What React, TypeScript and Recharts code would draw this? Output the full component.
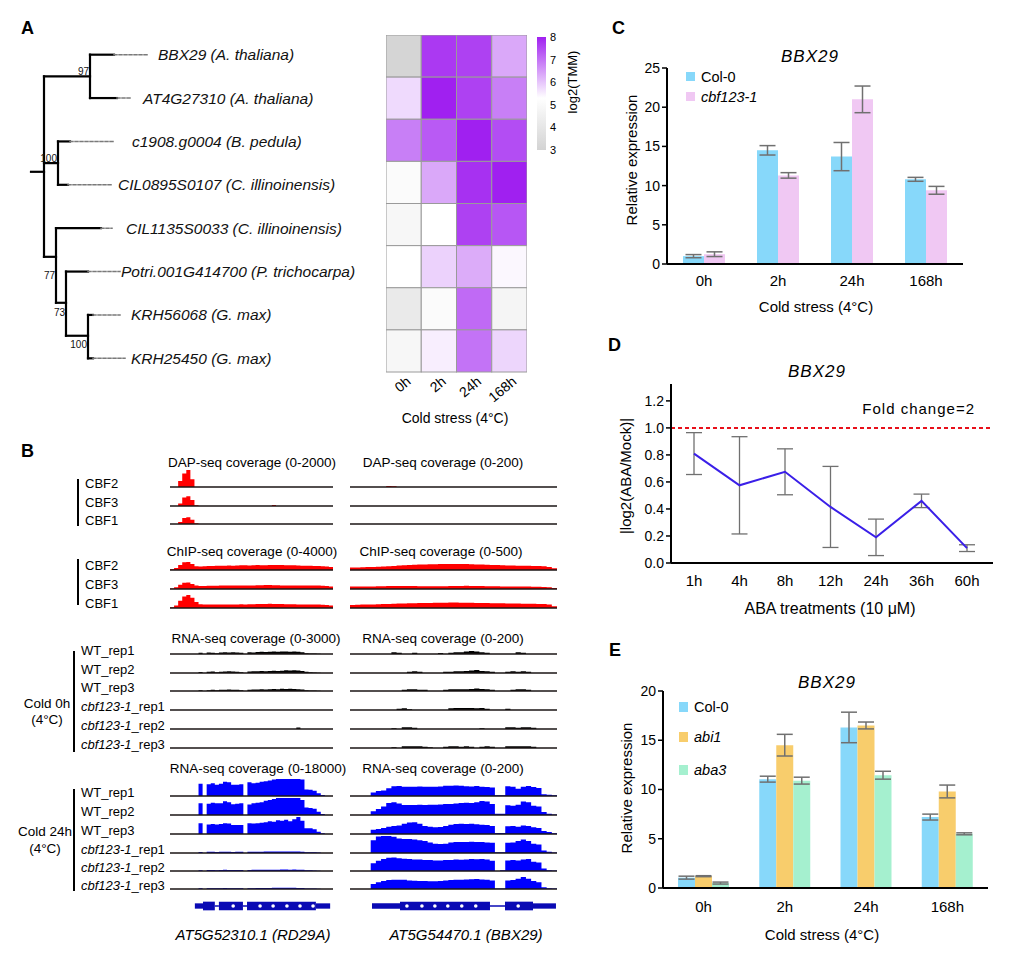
import React from 'react';
import {
  AreaChart, Area, BarChart, Bar, LineChart, Line, ComposedChart, ScatterChart, Scatter,
  XAxis, YAxis, ErrorBar, ReferenceLine, ReferenceArea,
} from 'recharts';

const FONT = '"Liberation Sans", Arial, Helvetica, sans-serif';

// ---------- A: tree ----------
const leafNames = [
  'BBX29 (A. thaliana)',
  'AT4G27310 (A. thaliana)',
  'c1908.g0004 (B. pedula)',
  'CIL0895S0107 (C. illinoinensis)',
  'CIL1135S0033 (C. illinoinensis)',
  'Potri.001G414700 (P. trichocarpa)',
  'KRH56068 (G. max)',
  'KRH25450 (G. max)',
];
const leafParent = [1, 1, 2, 2, 3, 4, 5, 5];
const leafDepth = [0.7, 0.73, 0.26, 0.24, 0.57, 0.44, 0.49, 0.49];
const leafDashEnd = [1.04, 0.88, 0.71, 0.67, 0.68, 0.76, 0.76, 0.81];
const leafLabelAt = [1.14, 0.99, 0.88, 0.74, 0.82, 0.77, 0.87, 0.87];
// internal nodes: root first
const nodeParent = [-1, 0, 0, 0, 3, 4];
const nodeDepth = [0, 0.46, 0.14, 0.12, 0.22, 0.44];
const nodeRow = [2.7, 0.5, 2.5, 4.66, 5.72, 6.48];
const nodeSupport = ['', '97', '100', '77', '73', '100'];
const rootStub = -0.13;

// ---------- A: heatmap, log2(TMM) ----------
const coldTimes = ['0h', '2h', '24h', '168h'];
const heat0h = [3.1, 5.75, 6.85, 5.1, 4.9, 5.3, 4.2, 4.9];
const heat2h = [7.7, 8.0, 7.3, 6.35, 5.3, 5.85, 5.1, 5.5];
const heat24h = [7.6, 7.6, 8.0, 7.8, 7.6, 6.3, 7.1, 7.0];
const heat168h = [6.35, 6.85, 7.45, 8.0, 7.35, 5.4, 4.8, 5.8];
const heatTicks = [3, 4, 5, 6, 7, 8];

// ---------- B: coverage tracks (40 bins over each locus) ----------
const dapRdCbf2 = [0,0,700,1600,2100,900,0,0,0,0, 0,0,0,0,0,0,0,0,0,0, 0,0,0,0,0,0,0,0,0,0, 0,0,0,0,0,0,0,0,0,0];
const dapRdCbf3 = [0,0,300,1000,1150,700,100,0,0,0, 0,0,0,0,0,0,0,0,0,0, 0,0,0,0,0,120,0,0,0,0, 0,0,0,0,0,0,0,0,0,0];
const dapRdCbf1 = [0,0,250,700,800,500,100,0,0,0, 0,0,0,0,0,0,0,0,0,0, 0,0,0,0,0,0,0,0,0,0, 0,0,0,0,0,0,0,0,0,0];
const dapBbCbf2 = [0,0,0,0,0,0,0,12,10,0, 0,0,0,0,0,0,0,0,0,0, 0,0,0,0,0,0,0,0,0,0, 0,0,0,0,0,0,0,0,0,0];
const dapBbCbf3 = [0,0,0,0,0,0,0,0,0,0, 0,0,0,0,0,0,0,0,0,0, 0,0,0,0,0,0,0,0,0,0, 0,0,0,0,0,0,0,0,0,0];
const dapBbCbf1 = [0,0,0,0,0,0,0,0,0,0, 0,0,0,0,0,0,0,0,0,0, 0,0,0,0,0,0,0,0,0,0, 0,0,0,0,0,0,0,0,0,0];

const chipRdCbf2 = [150,500,1200,1800,1900,1400,900,850,900,950, 950,1000,1000,1000,1050,1000,1050,1100,1100,1050, 1100,1150,1100,1100,1150,1200,1150,1150,1100,1100, 1100,1050,1000,1000,1000,950,950,900,850,700];
const chipRdCbf3 = [100,400,1000,1450,1550,1200,800,700,700,750, 750,750,800,800,800,800,850,850,800,850, 850,900,900,950,950,900,900,850,850,850, 800,800,800,850,850,800,800,750,700,600];
const chipRdCbf1 = [150,600,1700,2700,3050,2400,1400,900,800,800, 800,800,850,850,850,850,850,900,850,900, 900,950,950,950,1000,950,950,950,900,900, 900,850,850,850,800,800,800,750,700,600];
const chipBbCbf2 = [70,75,80,85,90,95,100,110,120,130, 140,150,155,160,165,170,172,175,178,180, 180,178,175,170,165,160,155,150,145,140, 135,130,128,125,122,120,118,110,90,50];
const chipBbCbf3 = [70,70,72,75,75,78,80,85,88,90, 90,88,85,82,80,78,78,80,82,85, 88,90,92,90,88,85,82,80,78,76, 75,74,72,70,70,68,66,62,55,30];
const chipBbCbf1 = [90,95,100,100,105,110,115,120,125,130, 135,140,142,145,148,150,152,155,158,160, 160,158,155,152,150,148,145,142,140,138, 135,132,130,128,125,122,120,115,100,55];

const rna0RdWt1 = [0,0,0,0,0,0,0,200,0,250, 200,150,250,300,250,300,250,200,0,300, 250,350,400,350,400,450,400,450,450,400, 450,400,300,150,100,100,50,0,0,0];
const rna0RdWt2 = [0,0,0,0,0,0,0,180,0,200, 250,150,200,250,300,250,200,150,0,250, 300,300,350,300,350,400,350,400,500,450, 500,450,350,200,150,100,50,0,0,0];
const rna0RdWt3 = [0,0,0,0,0,0,0,150,0,150, 200,150,200,200,250,200,200,150,0,200, 250,250,300,250,300,350,300,400,350,400, 350,300,250,150,100,100,50,0,0,0];
const rna0RdCbf1 = [0,0,0,0,0,0,0,0,0,0, 0,0,0,0,0,0,0,0,0,0, 0,0,0,0,0,0,0,0,0,0, 0,0,0,0,0,0,0,0,0,0];
const rna0RdCbf2 = [0,0,0,0,0,0,0,0,0,0, 0,0,0,0,0,0,0,0,0,0, 0,0,0,0,0,0,0,0,0,0, 0,250,0,0,0,0,0,0,0,0];
const rna0RdCbf3 = [0,0,0,0,0,0,0,0,0,0, 0,0,0,0,0,0,0,0,0,0, 0,0,0,0,0,0,0,0,0,0, 0,0,0,0,0,0,0,0,0,0];
const rna0BbWt1 = [0,0,0,0,0,0,0,0,20,15, 0,0,15,0,0,0,0,12,0,15, 20,20,30,35,30,20,15,0,0,0, 0,0,20,15,0,0,0,0,0,0];
const rna0BbWt2 = [0,0,0,0,0,0,0,0,0,0, 0,15,20,15,0,0,0,0,15,15, 20,20,25,30,35,25,20,15,0,0, 15,20,15,20,15,0,0,0,0,0];
const rna0BbWt3 = [0,0,0,0,0,0,0,0,0,0, 15,20,20,15,15,0,0,0,15,20, 20,20,20,25,30,25,20,15,0,0, 0,15,20,20,15,0,0,0,0,0];
const rna0BbCbf1 = [0,0,0,0,0,0,0,0,0,15, 20,10,0,0,0,0,0,0,0,20, 25,25,25,25,20,25,15,0,0,0, 15,0,0,0,0,0,0,0,0,0];
const rna0BbCbf2 = [0,0,0,0,0,0,0,0,10,0, 20,20,15,0,0,0,0,0,0,0, 0,0,0,0,0,10,0,0,0,0, 20,20,15,20,20,15,0,0,0,0];
const rna0BbCbf3 = [0,0,0,0,0,0,0,0,10,0, 20,20,20,20,15,10,0,0,15,20, 20,15,20,15,0,15,20,15,0,0, 20,20,20,20,20,15,0,0,0,0];

const rna24RdWt1 = [0,0,0,0,0,0,0,13000,0,12500, 13500,12000,13000,15000,14500,12000,12000,12500,0,14500, 13500,14000,15000,15500,16500,17500,19000,19000,19000,19000, 19000,19000,17500,7000,6500,5500,3000,1000,0,0];
const rna24RdWt2 = [0,0,0,0,0,0,0,12500,0,12000, 13000,12500,12500,14500,13500,11500,12000,12500,0,11000, 12500,13000,13500,15000,16000,17000,18500,19000,19000,19000, 19000,19000,16000,8000,7500,6500,3500,1000,0,0];
const rna24RdWt3 = [0,0,0,0,0,0,0,11500,0,10000, 10500,10000,10500,11500,11000,9500,9500,9500,0,11500, 11000,11500,12000,12500,13500,13000,14500,14000,15000,13500, 15500,19000,14000,6000,6000,5000,2500,800,0,0];
const rna24RdCbf1 = [0,0,0,0,0,0,0,1000,0,1200, 1200,1000,1200,1400,1200,1100,1200,1200,0,1300, 1300,1400,1400,1500,1500,1500,1600,1600,1600,1500, 1600,1500,1400,900,800,700,400,0,0,0];
const rna24RdCbf2 = [0,0,0,0,0,0,0,900,0,1000, 1100,900,1000,1200,1100,1000,1000,1100,0,1100, 1200,1200,1300,1300,1400,1400,1400,1500,1500,1400, 1500,1400,1300,800,700,600,300,0,0,0];
const rna24RdCbf3 = [0,0,0,0,0,0,0,700,0,800, 800,700,800,1000,900,800,800,900,0,900, 900,1000,1000,1100,1100,1200,1200,1200,1300,1200, 1200,1100,1000,600,500,400,200,0,0,0];
const rna24BbWt1 = [0,0,0,0,40,60,65,90,115,118, 110,108,110,112,110,108,110,112,120,122, 125,122,115,112,118,110,105,100,10,10, 115,110,85,110,118,105,95,20,15,8];
const rna24BbWt2 = [0,0,0,0,45,70,100,140,150,135, 118,118,118,120,118,120,122,125,128,130, 135,140,145,140,150,165,160,130,15,15, 115,110,120,160,150,110,100,35,15,5];
const rna24BbWt3 = [0,0,0,0,50,60,70,85,95,100, 120,135,138,120,95,85,80,82,95,110, 118,120,118,120,115,110,105,95,12,12, 90,95,85,100,95,80,70,35,25,10];
const rna24BbCbf1 = [0,0,0,0,150,195,200,200,190,170, 165,165,160,150,140,125,110,105,110,125, 130,128,130,132,130,128,125,120,10,10, 120,125,140,160,140,110,100,30,15,5];
const rna24BbCbf2 = [0,0,0,0,90,120,140,155,160,150, 145,140,135,135,130,128,125,125,128,130, 135,132,135,140,138,140,135,120,0,10, 125,130,125,135,140,110,100,30,10,5];
const rna24BbCbf3 = [0,0,0,0,60,80,95,105,108,110, 108,100,98,95,95,92,92,95,100,105, 108,110,112,115,118,112,110,100,5,5, 100,105,120,140,120,95,80,20,10,5];

const cbfLabels = ['CBF2', 'CBF3', 'CBF1'];
const rnaLabels = ['WT_rep1', 'WT_rep2', 'WT_rep3', 'cbf123-1_rep1', 'cbf123-1_rep2', 'cbf123-1_rep3'];

// gene models, in bin units of each locus
const rd29aUtr = [[6.1, 8.1], [35.8, 39.3]];
const rd29aCds = [[8.1, 11.0], [12.0, 17.9], [18.9, 35.8]];
const rd29aIntron = [[11.0, 12.0], [17.9, 18.9]];
const rd29aArrows = [15.5, 22.1, 25.3, 28.7, 31.9, 35.1];
const bbx29Utr = [[4.25, 9.66], [35.36, 39.8]];
const bbx29Cds = [[9.66, 27.05], [29.95, 35.36]];
const bbx29Intron = [[27.05, 29.95]];
const bbx29Arrows = [11.0, 13.9, 16.4, 18.9, 21.6, 24.3, 32.5];

// ---------- C ----------
const cCol0 = [1.0, 14.5, 13.7, 10.8];
const cCol0Err = [0.2, 0.6, 1.8, 0.25];
const cCbf = [1.25, 11.3, 21.0, 9.4];
const cCbfErr = [0.3, 0.35, 1.7, 0.5];

// ---------- D ----------
const abaTimes = ['1h', '4h', '8h', '12h', '24h', '36h', '60h'];
const abaLog = [0.81, 0.575, 0.675, 0.415, 0.19, 0.46, 0.11];
const abaErr = [0.155, 0.36, 0.17, 0.3, 0.135, 0.05, 0.025];

// ---------- E ----------
const eCol0 = [1.05, 11.05, 16.3, 7.2];
const eCol0Err = [0.15, 0.3, 1.55, 0.3];
const eAbi1 = [1.2, 14.5, 16.5, 9.8];
const eAbi1Err = [0.05, 1.1, 0.35, 0.65];
const eAba3 = [0.5, 10.9, 11.45, 5.5];
const eAba3Err = [0.1, 0.35, 0.4, 0.1];

const COL0 = '#87d8fa';
const CBF = '#f0c8f3';
const ABI1 = '#f8cd6c';
const ABA3 = '#a5f0cf';
const GENE = '#0a0ab4';

function heatColor(v: number) {
  const gray = [211, 211, 211];
  const white = [255, 255, 255];
  const purple = [160, 32, 240];
  let a = gray, b = white, t = (v - 3) / 2.3;
  if (v > 5.3) { a = white; b = purple; t = (v - 5.3) / 2.7; }
  t = Math.max(0, Math.min(1, t));
  const c = a.map((x, i) => Math.round(x + (b[i] - x) * t));
  return `rgb(${c[0]},${c[1]},${c[2]})`;
}

type TxtProps = {
  x: number; y: number; children: React.ReactNode; size?: number; italic?: boolean;
  bold?: boolean; anchor?: 'start' | 'middle' | 'end'; rotate?: number; spacing?: number;
};
function Txt({ x, y, children, size = 13, italic, bold, anchor = 'start', rotate, spacing }: TxtProps) {
  return (
    <text x={x} y={y} fontSize={size} fontStyle={italic ? 'italic' : 'normal'} fontWeight={bold ? 'bold' : 'normal'}
      textAnchor={anchor} dominantBaseline="central" letterSpacing={spacing} fill="#000"
      transform={rotate ? `rotate(${rotate} ${x} ${y})` : undefined}>
      {children}
    </text>
  );
}

// ---------- tree ----------
type Seg = { x1: number; y1: number; x2: number; y2: number; dashed?: boolean };
const treeSegs: Seg[] = [];
treeSegs.push({ x1: rootStub, y1: nodeRow[0], x2: 0, y2: nodeRow[0] });
nodeParent.forEach((p, n) => {
  if (p >= 0) treeSegs.push({ x1: nodeDepth[p], y1: nodeRow[n], x2: nodeDepth[n], y2: nodeRow[n] });
});
leafParent.forEach((p, l) => {
  treeSegs.push({ x1: nodeDepth[p], y1: l, x2: leafDepth[l], y2: l });
  treeSegs.push({ x1: leafDepth[l], y1: l, x2: leafDashEnd[l], y2: l, dashed: true });
});
nodeDepth.forEach((d, n) => {
  const ys: number[] = [];
  nodeParent.forEach((p, c) => { if (p === n) ys.push(nodeRow[c]); });
  leafParent.forEach((p, l) => { if (p === n) ys.push(l); });
  treeSegs.push({ x1: d, y1: Math.min(...ys), x2: d, y2: Math.max(...ys) });
});
const supportDy = [0, -5, -5, 19, 10, 9];

function TreePanel() {
  const leafPts = leafNames.map((name, i) => ({ x: leafLabelAt[i], y: i, name }));
  const supPts = nodeSupport.map((s, i) => ({ x: nodeDepth[i], y: nodeRow[i], s, dy: supportDy[i] })).filter((p) => p.s);
  return (
    <div style={{ position: 'absolute', left: 0, top: 33 }}>
      <ComposedChart width={390} height={347} margin={{ top: 0, right: 0, bottom: 0, left: 0 }}>
        <XAxis type="number" dataKey="x" domain={[-0.44, 3.46]} hide />
        <YAxis type="number" dataKey="y" domain={[-0.5, 7.5]} reversed hide />
        {treeSegs.map((s, i) => (
          <ReferenceLine key={i} segment={[{ x: s.x1, y: s.y1 }, { x: s.x2, y: s.y2 }]}
            stroke={s.dashed ? '#7a7a7a' : '#000'} strokeWidth={s.dashed ? 1.5 : 2.2}
            strokeDasharray={s.dashed ? '3 2' : undefined} strokeLinecap="square" ifOverflow="visible" />
        ))}
        <Scatter data={leafPts} isAnimationActive={false}
          shape={(p: any) => (
            <text x={p.cx} y={p.cy} fontSize={15.5} fontStyle="italic" dominantBaseline="central" fill="#111">{p.payload.name}</text>
          )} />
        <Scatter data={supPts} isAnimationActive={false}
          shape={(p: any) => (
            <text x={p.cx - 1} y={p.cy + p.payload.dy} fontSize={10} textAnchor="end" dominantBaseline="central" fill="#111">{p.payload.s}</text>
          )} />
      </ComposedChart>
    </div>
  );
}

// ---------- heatmap ----------
const heatByTime = [heat0h, heat2h, heat24h, heat168h];
const HEAT_W = 141;
const HEAT_H = 337;
function HeatPanel() {
  const cells = heatByTime.flatMap((col, c) => col.map((v, r) => ({ col: c, row: r, v })));
  const cw = HEAT_W / coldTimes.length;
  const ch = HEAT_H / leafNames.length;
  return (
    <div style={{ position: 'absolute', left: 386, top: 35 }}>
      <ScatterChart width={HEAT_W} height={HEAT_H + 50} margin={{ top: 0, right: 0, bottom: 0, left: 0 }}>
        <XAxis type="number" dataKey="col" domain={[-0.5, 3.5]} ticks={[0, 1, 2, 3]} height={50}
          axisLine={false} tickLine={false} interval={0}
          tick={(p: any) => (
            <text transform={`translate(${p.x + 8},${p.y + 3}) rotate(-40)`} textAnchor="end" fontSize={14} fill="#000">
              {coldTimes[p.payload.value]}
            </text>
          )} />
        <YAxis type="number" dataKey="row" domain={[-0.5, 7.5]} reversed hide />
        <Scatter data={cells} isAnimationActive={false}
          shape={(p: any) => (
            <rect x={p.cx - cw / 2} y={p.cy - ch / 2} width={cw} height={ch} fill={heatColor(p.payload.v)} stroke="#9a9a9a" strokeWidth={1} />
          )} />
      </ScatterChart>
    </div>
  );
}

// ---------- genome tracks ----------
const TRACK_H = 17;
const LEFT_X = 170;
const LEFT_W = 163;
const RIGHT_X = 350;
const RIGHT_W = 207;
const dapBase = [487, 506, 524];
const chipBase = [570, 589, 608];
const rna0Base = [654, 673, 691, 710, 729, 748];
const rna24Base = [796, 815, 834, 853, 871, 889];

function Track({ values, max, color, left, base, width }: { values: number[]; max: number; color: string; left: number; base: number; width: number }) {
  const data = values.map((v, i) => ({ i, v })).concat([{ i: values.length, v: 0 }]);
  return (
    <div style={{ position: 'absolute', left, top: base - TRACK_H }}>
      <AreaChart width={width} height={TRACK_H + 2} data={data} margin={{ top: 0, right: 0, bottom: 2, left: 0 }}>
        <XAxis type="number" dataKey="i" domain={[0, values.length]} hide />
        <YAxis type="number" domain={[0, max]} hide allowDataOverflow />
        <Area type="stepAfter" dataKey="v" stroke="none" fill={color} fillOpacity={1} isAnimationActive={false} />
        <ReferenceLine y={0} stroke="#1a1414" strokeWidth={1.3} />
      </AreaChart>
    </div>
  );
}

function GeneModel({ left, width, utr, cds, intron, arrows }: { left: number; width: number; utr: number[][]; cds: number[][]; intron: number[][]; arrows: number[] }) {
  const dots = arrows.map((x) => ({ x, y: 0 }));
  return (
    <div style={{ position: 'absolute', left, top: 899 }}>
      <ComposedChart width={width} height={14} margin={{ top: 0, right: 0, bottom: 0, left: 0 }}>
        <XAxis type="number" dataKey="x" domain={[0, 40]} hide />
        <YAxis type="number" dataKey="y" domain={[-1, 1]} hide />
        {intron.map((s, i) => (
          <ReferenceLine key={'i' + i} segment={[{ x: s[0], y: 0 }, { x: s[1], y: 0 }]} stroke={GENE} strokeWidth={1.5} ifOverflow="visible" />
        ))}
        {utr.map((s, i) => (
          <ReferenceArea key={'u' + i} x1={s[0]} x2={s[1]} y1={-0.38} y2={0.38} fill={GENE} fillOpacity={1} stroke="none" ifOverflow="visible" />
        ))}
        {cds.map((s, i) => (
          <ReferenceArea key={'c' + i} x1={s[0]} x2={s[1]} y1={-0.62} y2={0.62} fill={GENE} fillOpacity={1} stroke="none" ifOverflow="visible" />
        ))}
        <Scatter data={dots} isAnimationActive={false}
          shape={(p: any) => <circle cx={p.cx} cy={p.cy} r={1.8} fill="#fff" />} />
      </ComposedChart>
    </div>
  );
}

function GenomePanel() {
  const groups = [
    { base: dapBase, color: '#ff0000', left: [dapRdCbf2, dapRdCbf3, dapRdCbf1], lmax: 2000, right: [dapBbCbf2, dapBbCbf3, dapBbCbf1], rmax: 200 },
    { base: chipBase, color: '#ff0000', left: [chipRdCbf2, chipRdCbf3, chipRdCbf1], lmax: 4000, right: [chipBbCbf2, chipBbCbf3, chipBbCbf1], rmax: 500 },
    { base: rna0Base, color: '#000000', left: [rna0RdWt1, rna0RdWt2, rna0RdWt3, rna0RdCbf1, rna0RdCbf2, rna0RdCbf3], lmax: 3000, right: [rna0BbWt1, rna0BbWt2, rna0BbWt3, rna0BbCbf1, rna0BbCbf2, rna0BbCbf3], rmax: 200 },
    { base: rna24Base, color: '#0000ff', left: [rna24RdWt1, rna24RdWt2, rna24RdWt3, rna24RdCbf1, rna24RdCbf2, rna24RdCbf3], lmax: 18000, right: [rna24BbWt1, rna24BbWt2, rna24BbWt3, rna24BbCbf1, rna24BbCbf2, rna24BbCbf3], rmax: 200 },
  ];
  return (
    <>
      {groups.map((g, gi) => (
        <React.Fragment key={gi}>
          {g.left.map((vals, i) => (
            <Track key={'l' + i} values={vals} max={g.lmax} color={g.color} left={LEFT_X} base={g.base[i]} width={LEFT_W} />
          ))}
          {g.right.map((vals, i) => (
            <Track key={'r' + i} values={vals} max={g.rmax} color={g.color} left={RIGHT_X} base={g.base[i]} width={RIGHT_W} />
          ))}
        </React.Fragment>
      ))}
      <GeneModel left={LEFT_X} width={LEFT_W} utr={rd29aUtr} cds={rd29aCds} intron={rd29aIntron} arrows={rd29aArrows} />
      <GeneModel left={RIGHT_X} width={RIGHT_W} utr={bbx29Utr} cds={bbx29Cds} intron={bbx29Intron} arrows={bbx29Arrows} />
    </>
  );
}

// ---------- bar / line panels ----------
const axisStyle = { stroke: '#000', strokeWidth: 2 };
const tickStyle = { fill: '#000', fontSize: 14, fontFamily: FONT };
const xTickStyle = { fill: '#000', fontSize: 15, fontFamily: FONT };

function PanelC() {
  const data = coldTimes.map((t, i) => ({ t, col: cCol0[i], colErr: cCol0Err[i], cbf: cCbf[i], cbfErr: cCbfErr[i] }));
  return (
    <div style={{ position: 'absolute', left: 600, top: 40 }}>
      <BarChart width={380} height={290} data={data} margin={{ top: 28, right: 17, bottom: 36, left: 27 }} barGap={0} barSize={21}>
        <XAxis dataKey="t" height={30} axisLine={axisStyle} tickLine={false} tick={xTickStyle} tickMargin={5} />
        <YAxis domain={[0, 25]} ticks={[0, 5, 10, 15, 20, 25]} width={40} axisLine={axisStyle}
          tickLine={{ stroke: '#000', strokeWidth: 1.5 }} tickSize={5} tick={tickStyle} />
        <Bar dataKey="col" fill={COL0} isAnimationActive={false}>
          <ErrorBar dataKey="colErr" width={8} stroke="#707070" strokeWidth={1.5} />
        </Bar>
        <Bar dataKey="cbf" fill={CBF} isAnimationActive={false}>
          <ErrorBar dataKey="cbfErr" width={8} stroke="#707070" strokeWidth={1.5} />
        </Bar>
      </BarChart>
    </div>
  );
}

function PanelD() {
  const data = abaTimes.map((t, i) => ({ t, v: abaLog[i], e: abaErr[i] }));
  return (
    <div style={{ position: 'absolute', left: 600, top: 370 }}>
      <LineChart width={400} height={250} data={data} margin={{ top: 14, right: 7, bottom: 27, left: 26 }}>
        <XAxis dataKey="t" height={30} padding={{ left: 23, right: 26 }} axisLine={axisStyle} tickLine={false} tick={xTickStyle} tickMargin={6} />
        <XAxis xAxisId="top" dataKey="t" orientation="top" height={0} padding={{ left: 23, right: 26 }} axisLine={axisStyle} tickLine={false} tick={false} />
        <YAxis domain={[0, 1.325]} ticks={[0, 0.2, 0.4, 0.6, 0.8, 1.0, 1.2]} tickFormatter={(v: number) => v.toFixed(1)}
          width={45} axisLine={axisStyle} tickLine={{ stroke: '#000', strokeWidth: 1.5 }} tickSize={5} tick={tickStyle} allowDataOverflow />
        <YAxis yAxisId="right" orientation="right" domain={[0, 1.325]} width={0} axisLine={axisStyle} tickLine={false} tick={false} />
        <ReferenceLine y={1} stroke="#e8101a" strokeWidth={2} strokeDasharray="4 3" />
        <Line dataKey="v" stroke="#3a1fe8" strokeWidth={2} dot={false} isAnimationActive={false}>
          <ErrorBar dataKey="e" width={8} stroke="#707070" strokeWidth={1.3} />
        </Line>
      </LineChart>
    </div>
  );
}

function PanelE() {
  const data = coldTimes.map((t, i) => ({
    t, col: eCol0[i], colErr: eCol0Err[i], abi: eAbi1[i], abiErr: eAbi1Err[i], aba: eAba3[i], abaErr: eAba3Err[i],
  }));
  return (
    <div style={{ position: 'absolute', left: 600, top: 660 }}>
      <BarChart width={400} height={278} data={data} margin={{ top: 31, right: 12, bottom: 20, left: 23 }} barGap={0} barSize={17}>
        <XAxis dataKey="t" height={30} axisLine={axisStyle} tickLine={false} tick={xTickStyle} tickMargin={7} />
        <YAxis domain={[0, 20]} ticks={[0, 5, 10, 15, 20]} width={40} axisLine={axisStyle}
          tickLine={{ stroke: '#000', strokeWidth: 1.5 }} tickSize={5} tick={tickStyle} />
        <Bar dataKey="col" fill={COL0} isAnimationActive={false}>
          <ErrorBar dataKey="colErr" width={8} stroke="#707070" strokeWidth={1.5} />
        </Bar>
        <Bar dataKey="abi" fill={ABI1} isAnimationActive={false}>
          <ErrorBar dataKey="abiErr" width={8} stroke="#707070" strokeWidth={1.5} />
        </Bar>
        <Bar dataKey="aba" fill={ABA3} isAnimationActive={false}>
          <ErrorBar dataKey="abaErr" width={8} stroke="#707070" strokeWidth={1.5} />
        </Bar>
      </BarChart>
    </div>
  );
}

function TrackLabel({ x, y, label }: { x: number; y: number; label: string }) {
  if (label.startsWith('cbf123-1')) {
    return (
      <text x={x} y={y} fontSize={13} dominantBaseline="central" fill="#000">
        <tspan fontStyle="italic">cbf123-1</tspan>
        <tspan>{label.slice(8)}</tspan>
      </text>
    );
  }
  return <Txt x={x} y={y}>{label}</Txt>;
}

function Overlay() {
  const cLegend = [{ name: 'Col-0', color: COL0, italic: false }, { name: 'cbf123-1', color: CBF, italic: true }];
  const eLegend = [{ name: 'Col-0', color: COL0, italic: false }, { name: 'abi1', color: ABI1, italic: true }, { name: 'aba3', color: ABA3, italic: true }];
  const eLegendY = [707, 737, 770];
  return (
    <svg width={1017} height={959} style={{ position: 'absolute', left: 0, top: 0, pointerEvents: 'none', fontFamily: FONT }}>
      <defs>
        <linearGradient id="heatgrad" x1="0" y1="0" x2="0" y2="1">
          <stop offset="0%" stopColor={heatColor(8)} />
          <stop offset="54%" stopColor={heatColor(5.3)} />
          <stop offset="100%" stopColor={heatColor(3)} />
        </linearGradient>
      </defs>

      {/* panel letters */}
      <Txt x={21} y={28} size={18} bold>A</Txt>
      <Txt x={21} y={451} size={18} bold>B</Txt>
      <Txt x={612} y={28} size={18} bold>C</Txt>
      <Txt x={608} y={345} size={18} bold>D</Txt>
      <Txt x={609} y={650} size={18} bold>E</Txt>

      {/* heatmap legend + axis title */}
      <rect x={537} y={37} width={9} height={113} fill="url(#heatgrad)" />
      {heatTicks.map((t) => (
        <Txt key={t} x={550} y={150 - ((t - 3) / 5) * 113} size={11}>{t}</Txt>
      ))}
      <Txt x={572} y={82} size={13} anchor="middle" rotate={-90}>log2(TMM)</Txt>
      <Txt x={455} y={418} size={14} anchor="middle">Cold stress (4°C)</Txt>

      {/* genome panel text */}
      <Txt x={252} y={462} anchor="middle" size={13.5}>DAP-seq coverage (0-2000)</Txt>
      <Txt x={443} y={462} anchor="middle" size={13.5}>DAP-seq coverage (0-200)</Txt>
      <Txt x={252} y={551} anchor="middle" size={13.5}>ChIP-seq coverage (0-4000)</Txt>
      <Txt x={441} y={551} anchor="middle" size={13.5}>ChIP-seq coverage (0-500)</Txt>
      <Txt x={256} y={638} anchor="middle" size={13.5}>RNA-seq coverage (0-3000)</Txt>
      <Txt x={443} y={638} anchor="middle" size={13.5}>RNA-seq coverage (0-200)</Txt>
      <Txt x={258} y={768} anchor="middle" size={13.5}>RNA-seq coverage (0-18000)</Txt>
      <Txt x={443} y={768} anchor="middle" size={13.5}>RNA-seq coverage (0-200)</Txt>
      {cbfLabels.map((l, i) => <TrackLabel key={'d' + i} x={85} y={dapBase[i] - 4} label={l} />)}
      {cbfLabels.map((l, i) => <TrackLabel key={'c' + i} x={85} y={chipBase[i] - 5} label={l} />)}
      {rnaLabels.map((l, i) => <TrackLabel key={'r' + i} x={81} y={rna0Base[i] - 4} label={l} />)}
      {rnaLabels.map((l, i) => <TrackLabel key={'s' + i} x={81} y={rna24Base[i] - 4} label={l} />)}
      <line x1={78} y1={479} x2={78} y2={526} stroke="#000" strokeWidth={2} />
      <line x1={78} y1={559} x2={78} y2={605} stroke="#000" strokeWidth={2} />
      <line x1={74} y1={651} x2={74} y2={752} stroke="#000" strokeWidth={2} />
      <line x1={74} y1={789} x2={74} y2={891} stroke="#000" strokeWidth={2} />
      <Txt x={47} y={703} anchor="middle" size={13.5}>Cold 0h</Txt>
      <Txt x={47} y={719} anchor="middle" size={13.5}>(4°C)</Txt>
      <Txt x={45} y={831} anchor="middle" size={13.5}>Cold 24h</Txt>
      <Txt x={45} y={848} anchor="middle" size={13.5}>(4°C)</Txt>
      <Txt x={253} y={934} anchor="middle" size={15} italic>AT5G52310.1 (RD29A)</Txt>
      <Txt x={466} y={934} anchor="middle" size={15} italic>AT5G54470.1 (BBX29)</Txt>

      {/* C */}
      <Txt x={810} y={56} anchor="middle" size={17} italic spacing={1}>BBX29</Txt>
      {cLegend.map((l, i) => (
        <g key={l.name}>
          <rect x={686} y={72 + i * 20} width={9} height={9} fill={l.color} />
          <Txt x={701} y={77 + i * 20} size={14.5} italic={l.italic}>{l.name}</Txt>
        </g>
      ))}
      <Txt x={631} y={160} anchor="middle" rotate={-90} size={15}>Relative expression</Txt>
      <Txt x={816} y={306} anchor="middle" size={15}>Cold stress (4°C)</Txt>

      {/* D */}
      <Txt x={817} y={371} anchor="middle" size={17} italic spacing={1}>BBX29</Txt>
      <Txt x={975} y={408} anchor="end" size={15} spacing={1}>Fold change=2</Txt>
      <Txt x={625} y={476} anchor="middle" rotate={-90} size={15}>|log2(ABA/Mock)|</Txt>
      <Txt x={830} y={608} anchor="middle" size={16}>ABA treatments (10 μM)</Txt>

      {/* E */}
      <Txt x={827} y={682} anchor="middle" size={17} italic spacing={1}>BBX29</Txt>
      {eLegend.map((l, i) => (
        <g key={l.name}>
          <rect x={679} y={eLegendY[i] - 5} width={9} height={10} fill={l.color} />
          <Txt x={694} y={eLegendY[i]} size={14.5} italic={l.italic}>{l.name}</Txt>
        </g>
      ))}
      <Txt x={626} y={788} anchor="middle" rotate={-90} size={15}>Relative expression</Txt>
      <Txt x={822} y={934} anchor="middle" size={15}>Cold stress (4°C)</Txt>
    </svg>
  );
}

export default function App() {
  return (
    <div style={{ position: 'absolute', left: 0, top: 0, width: 1017, height: 959, background: '#fff', fontFamily: FONT, overflow: 'hidden' }}>
      <TreePanel />
      <HeatPanel />
      <GenomePanel />
      <PanelC />
      <PanelD />
      <PanelE />
      <Overlay />
    </div>
  );
}
